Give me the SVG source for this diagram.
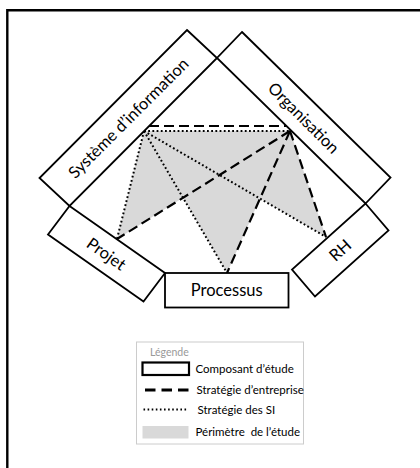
<svg xmlns="http://www.w3.org/2000/svg" width="420" height="468" viewBox="0 0 420 468">
<style>
.box{fill:#fff;stroke:#000;stroke-width:1.8;stroke-linejoin:miter}
.lbl{font-family:Lato,"Liberation Sans",sans-serif;font-size:16.5px;fill:#000;text-anchor:middle;dominant-baseline:central}
.dash{fill:none;stroke:#000;stroke-width:2.2;stroke-dasharray:10 5}
.dot{fill:none;stroke:#000;stroke-width:2;stroke-dasharray:1.8 2.4}
.leg{font-family:Lato,"Liberation Sans",sans-serif;font-size:11.5px;fill:#000;white-space:pre}
.perim{fill:#d9d9d9;stroke:none}
</style>
<rect width="420" height="468" fill="#fff"/>
<path d="M7.3,470 V10.3 H422" fill="none" stroke="#000" stroke-width="2.4"/>

<polygon id="perimetre" class="perim" points="144,131 117,239 183,197.8 227,273 260,198.6 326,237 290,131"/>

<g id="connectors">
  <path class="dash" d="M149,126 H286"/>
  <path class="dash" d="M290,131 L117,239"/>
  <path class="dash" d="M290,131 L227,273"/>
  <path class="dash" d="M290,131 L326,237"/>
  <path class="dot" d="M144,131 H290"/>
  <path class="dot" d="M144,131 L117,239"/>
  <path class="dot" d="M144,131 L227,273"/>
  <path class="dot" d="M144,131 L326,237"/>
</g>

<g id="systeme-information">
  <polygon class="box" points="187,30 217,58 69.5,206 39.5,178"/>
  <text class="lbl" x="128.25" y="118" transform="rotate(-45 128.25 118)">Système d’information</text>
</g>
<g id="organisation">
  <polygon class="box" points="242,32 390.5,177.5 365.5,203.5 217,58"/>
  <text class="lbl" x="303.75" y="117.75" transform="rotate(45 303.75 117.75)">Organisation</text>
</g>
<g id="projet">
  <polygon class="box" points="69.5,206 165,273 143.5,301.5 48,234.5"/>
  <text class="lbl" x="106.5" y="253.75" transform="rotate(35 106.5 253.75)">Projet</text>
</g>
<g id="processus">
  <rect class="box" x="165" y="273" width="123.5" height="34.5"/>
  <text class="lbl" x="226.75" y="290">Processus</text>
</g>
<g id="rh">
  <polygon class="box" points="365.5,203.5 388.5,230.5 315,296.5 292,269.5"/>
  <text class="lbl" x="340" y="250" transform="rotate(-42 340 250)">RH</text>
</g>

<g id="legende">
  <rect x="136.5" y="342" width="167" height="102" fill="#fff" stroke="#cccccc" stroke-width="1"/>
  <text class="leg" x="150" y="355.5" style="font-size:10.5px;fill:#999">Légende</text>
  <rect x="142.5" y="362.5" width="46.5" height="12.5" fill="#fff" stroke="#000" stroke-width="2.2"/>
  <text class="leg" x="195.5" y="373">Composant d’étude</text>
  <path d="M145,390 H188.5" fill="none" stroke="#000" stroke-width="3" stroke-dasharray="10.5 6"/>
  <text class="leg" x="196.5" y="393.5">Stratégie d’entreprise</text>
  <path d="M143.5,409.5 H188.5" fill="none" stroke="#000" stroke-width="2" stroke-dasharray="1.6 2.5"/>
  <text class="leg" x="197.5" y="413.5">Stratégie des SI</text>
  <rect x="142.5" y="426" width="46" height="12.5" fill="#d9d9d9"/>
  <text class="leg" x="195.5" y="436">Périmètre  de l’étude</text>
</g>
</svg>
